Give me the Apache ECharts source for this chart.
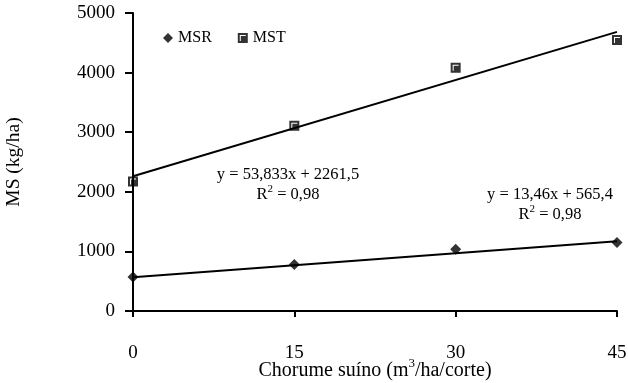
<!DOCTYPE html>
<html>
<head>
<meta charset="utf-8">
<script src="https://cdn.jsdelivr.net/npm/echarts@6/dist/echarts.min.js"></script>
<style>
html,body{margin:0;padding:0;background:#fff;}
#chart{width:628px;height:383px;}
</style>
</head>
<body>
<div id="chart"></div>
<script>
// ---- data ----
const doses = [0, 15, 30, 45];
const msrValues = [572, 781, 1038, 1151];
const mstValues = [2172, 3109, 4081, 4545];
const msrTrend = { slope: 13.46, intercept: 565.4 };
const mstTrend = { slope: 53.833, intercept: 2261.5 };
const xTicks = [0, 15, 30, 45];
const yTicks = [0, 1000, 2000, 3000, 4000, 5000];
const seriesNames = ['MSR', 'MST'];
const equationTexts = ['y = 53,833x + 2261,5', 'y = 13,46x + 565,4'];
const r2Texts = ['0,98', '0,98'];

const FONT = "'Liberation Serif', 'Times New Roman', serif";
const trendLine = (t) => [doses[0], doses[doses.length - 1]].map(x => [x, t.slope * x + t.intercept]);
const pairs = (vals) => doses.map((x, i) => [x, vals[i]]);

const squareIcon = 'path://M0,0 H10 V10 H0 Z M2,2 V8 H3 V3 H8 V2 Z';
const supStyle = { fontSize: 11, fontFamily: FONT, fill: '#000', color: '#000', padding: [0, 0, 12, 0] };

const chart = echarts.init(document.getElementById('chart'), null, { renderer: 'canvas' });
chart.setOption({
  animation: false,
  backgroundColor: '#fff',
  textStyle: { fontFamily: FONT, color: '#000' },
  grid: { left: 133, right: 11, top: 13, bottom: 72, containLabel: false, outerBoundsMode: 'none' },
  legend: {
    left: 158, top: 25,
    itemWidth: 10, itemHeight: 10, itemGap: 26,
    textStyle: { fontFamily: FONT, fontSize: 16, color: '#000' },
    data: [
      { name: seriesNames[0], icon: 'diamond' },
      { name: seriesNames[1], icon: squareIcon }
    ]
  },
  xAxis: {
    type: 'value', min: 0, max: 45, interval: 15,
    name: 'Chorume suíno (m{sup|3}/ha/corte)',
    nameLocation: 'middle', nameGap: 46, nameMoveOverlap: false,
    nameTextStyle: {
      fontFamily: FONT, fontSize: 20, color: '#000',
      rich: { sup: { fontSize: 13, fontFamily: FONT, color: '#000', padding: [0, 0, 14, 0] } }
    },
    axisLine: { show: true, onZero: false, lineStyle: { color: '#000', width: 2 } },
    axisTick: { show: true, inside: false, length: 6, lineStyle: { color: '#000', width: 2 } },
    axisLabel: { fontFamily: FONT, fontSize: 19, color: '#000', margin: 33 },
    splitLine: { show: false }
  },
  yAxis: {
    type: 'value', min: 0, max: 5000, interval: 1000,
    name: 'MS (kg/ha)',
    nameLocation: 'middle', nameGap: 109, nameRotate: 90, nameMoveOverlap: false,
    nameTextStyle: { fontFamily: FONT, fontSize: 19.5, color: '#000' },
    axisLine: { show: true, onZero: false, lineStyle: { color: '#000', width: 2 } },
    axisTick: { show: true, inside: false, length: 8, lineStyle: { color: '#000', width: 2 } },
    axisLabel: { fontFamily: FONT, fontSize: 19, color: '#000', margin: 18,
      formatter: v => yTicks.includes(v) ? String(v) : '' },
    splitLine: { show: false }
  },
  graphic: [
    {
      type: 'text', silent: true, x: 288, y: 185,
      style: {
        text: equationTexts[0] + '\nR{sup|2} = ' + r2Texts[0],
        font: '16.5px ' + FONT, fill: '#000', align: 'center', verticalAlign: 'middle', lineHeight: 20,
        rich: { sup: supStyle }
      }
    },
    {
      type: 'text', silent: true, x: 550, y: 205,
      style: {
        text: equationTexts[1] + '\nR{sup|2} = ' + r2Texts[1],
        font: '16.5px ' + FONT, fill: '#000', align: 'center', verticalAlign: 'middle', lineHeight: 20,
        rich: { sup: supStyle }
      }
    }
  ],
  series: [
    {
      name: seriesNames[0], type: 'scatter', data: pairs(msrValues),
      symbol: 'diamond', symbolSize: [11, 11],
      itemStyle: { color: '#000' }, z: 5
    },
    {
      name: seriesNames[1], type: 'scatter', data: pairs(mstValues),
      symbol: squareIcon, symbolSize: [10, 10],
      itemStyle: { color: '#000' }, z: 5
    },
    {
      name: 'MSR trend', type: 'line', data: trendLine(msrTrend), showSymbol: false, symbol: 'none',
      lineStyle: { color: '#000', width: 2 }, silent: true, z: 3
    },
    {
      name: 'MST trend', type: 'line', data: trendLine(mstTrend), showSymbol: false, symbol: 'none',
      lineStyle: { color: '#000', width: 2 }, silent: true, z: 3
    }
  ]
});
</script>
</body>
</html>
